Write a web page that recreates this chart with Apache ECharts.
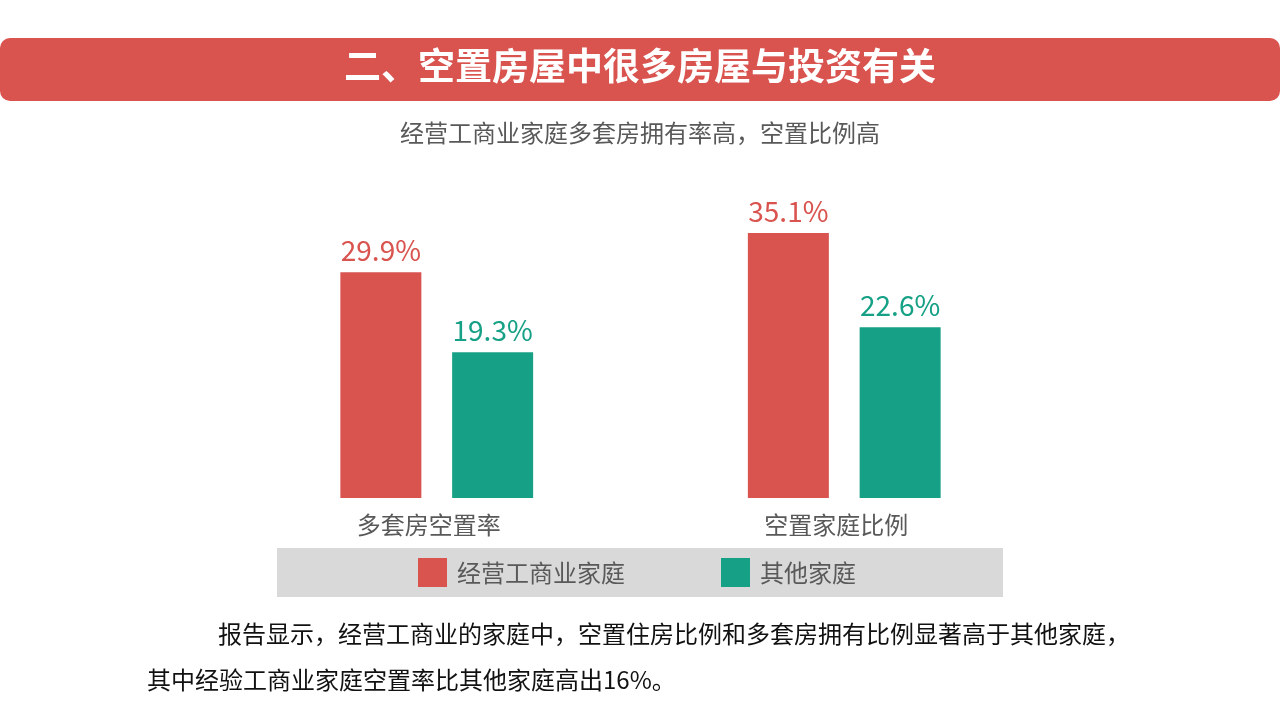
<!DOCTYPE html>
<html>
<head>
<meta charset="utf-8">
<script src="https://cdn.jsdelivr.net/npm/echarts@6/dist/echarts.min.js"></script>
<style>
  html, body { margin: 0; padding: 0; background: #fff; }
  #chart { width: 1280px; height: 720px; }
</style>
</head>
<body>
<div id="chart"></div>
<script>
// 数据
var categories = ['多套房空置率', '空置家庭比例'];
var seriesNames = ['经营工商业家庭', '其他家庭'];
var bizValues = [29.9, 35.1];
var otherValues = [19.3, 22.6];

var RED = '#d9534f';
var GREEN = '#16a085';
var FONT = '"Noto Sans CJK SC", "Noto Sans", sans-serif';

var myChart = echarts.init(document.getElementById('chart'));

myChart.setOption({
    backgroundColor: '#fff',
    animation: false,
    textStyle: { fontFamily: FONT },
    title: {
        text: '经营工商业家庭多套房拥有率高，空置比例高',
        left: 'center',
        top: 116,
        textStyle: { fontSize: 24, fontWeight: 'normal', color: '#595959', fontFamily: FONT }
    },
    legend: {
        data: seriesNames,
        left: 418,
        top: 558,
        padding: 0,
        itemWidth: 29,
        itemHeight: 29,
        itemGap: 96,
        icon: 'rect',
        z: 5,
        textStyle: { fontSize: 24, color: '#595959', padding: [0, 0, 0, 5], fontFamily: FONT }
    },
    grid: { left: 233, right: 232, top: 196, bottom: 222 },
    xAxis: {
        type: 'category',
        data: categories,
        axisLine: { show: false },
        axisTick: { show: false },
        axisLabel: {
            fontSize: 24, color: '#595959', margin: 15,
            padding: [0, 16, 0, 0], fontFamily: FONT
        }
    },
    yAxis: {
        type: 'value',
        min: 0,
        max: 40,
        show: false,
        splitLine: { show: false }
    },
    // 标题栏、图例底色、说明文字
    graphic: [
        {
            type: 'rect', left: 0, top: 38, z: 0,
            shape: { width: 1280, height: 63, r: 10 },
            style: { fill: RED }
        },
        {
            type: 'text', left: 'center', top: 47, z: 1,
            style: {
                text: '二、空置房屋中很多房屋与投资有关',
                fill: '#fff', fontSize: 37, fontWeight: 'bold', fontFamily: FONT
            }
        },
        {
            type: 'rect', left: 277, top: 548, z: 0,
            shape: { width: 726, height: 49 },
            style: { fill: '#d9d9d9' }
        },
        {
            type: 'text', left: 218, top: 622, z: 1,
            style: {
                text: '报告显示，经营工商业的家庭中，空置住房比例和多套房拥有比例显著高于其他家庭，',
                fill: '#111', fontSize: 24, fontFamily: FONT
            }
        },
        {
            type: 'text', left: 147, top: 668, z: 1,
            style: {
                text: '其中经验工商业家庭空置率比其他家庭高出16%。',
                fill: '#111', fontSize: 24, fontFamily: FONT
            }
        }
    ],
    series: [
        {
            name: seriesNames[0],
            type: 'bar',
            data: bizValues,
            barWidth: 81,
            barGap: '38%',
            itemStyle: { color: RED },
            label: {
                show: true, position: 'top', distance: 8,
                formatter: '{c}%', fontSize: 28, color: RED, fontFamily: FONT
            }
        },
        {
            name: seriesNames[1],
            type: 'bar',
            data: otherValues,
            barWidth: 81,
            barGap: '38%',
            itemStyle: { color: GREEN },
            label: {
                show: true, position: 'top', distance: 8,
                formatter: '{c}%', fontSize: 28, color: GREEN, fontFamily: FONT
            }
        }
    ]
});
</script>
</body>
</html>
